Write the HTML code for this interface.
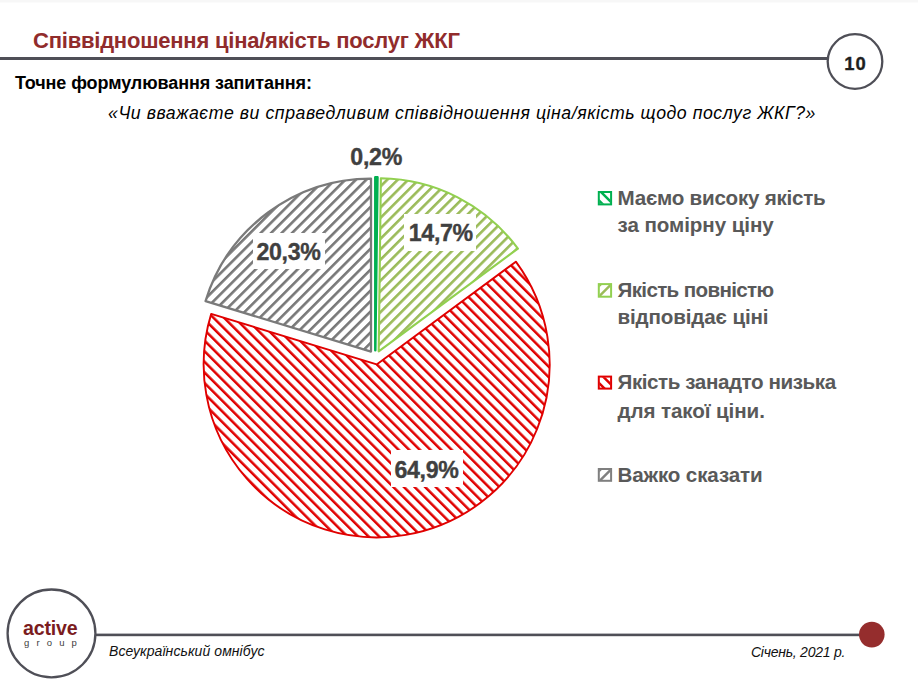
<!DOCTYPE html>
<html><head><meta charset="utf-8">
<style>
*{margin:0;padding:0;box-sizing:border-box}
html,body{width:918px;height:685px;overflow:hidden;background:#fff}
body{position:relative;font-family:"Liberation Sans",sans-serif}
.t{position:absolute;white-space:nowrap;line-height:1}
#title{left:33px;top:30.4px;font-size:22px;letter-spacing:-0.22px;font-weight:bold;color:#912c2c}
#sub{left:15px;top:74.3px;font-size:18px;letter-spacing:-0.09px;font-weight:bold;color:#000}
#quote{left:108px;top:105.4px;font-size:17.7px;letter-spacing:0.55px;font-style:italic;color:#000}
#pnum{left:844.2px;top:54.5px;font-size:18.4px;letter-spacing:1px;font-weight:bold;color:#1f1f1f;-webkit-text-stroke:0.35px #1f1f1f}
.lbl{position:absolute;background:#fff}
.lbl span{position:absolute;font-size:23.2px;letter-spacing:-0.35px;font-weight:bold;color:#404040;-webkit-text-stroke:0.35px #404040;white-space:nowrap;line-height:1}
.leg{position:absolute;left:617.5px;font-size:20.6px;font-weight:bold;color:#595959;line-height:28.3px;white-space:nowrap}
#active{left:23px;top:618.9px;font-size:19.6px;letter-spacing:-0.2px;font-weight:bold;color:#7b1c1e}
#group{left:24px;top:637.7px;font-size:9.5px;color:#404040;letter-spacing:7.15px}
#omni{left:109px;top:644.3px;letter-spacing:0.08px;font-size:14px;font-style:italic;color:#111}
#date{left:751px;top:645.2px;letter-spacing:-0.25px;font-size:14px;font-style:italic;color:#111}
</style></head><body>
<svg width="918" height="685" style="position:absolute;left:0;top:0">
<defs>
<pattern id="pg" patternUnits="userSpaceOnUse" width="7.4" height="7.4" patternTransform="rotate(45)"><rect x="0" y="0" width="2.6" height="7.4" fill="#787878"/></pattern>
<pattern id="plg" patternUnits="userSpaceOnUse" width="7.4" height="7.4" patternTransform="rotate(45)"><rect x="0" y="0" width="2.6" height="7.4" fill="#9BBB59"/></pattern>
<pattern id="pr" patternUnits="userSpaceOnUse" width="7.5" height="7.5" patternTransform="rotate(-45)"><rect x="0" y="0" width="2.5" height="7.5" fill="#E00000"/></pattern>
</defs>
<rect x="0" y="0" width="918" height="2" fill="#f7f7f7"/><rect x="0" y="2" width="918" height="1" fill="#fbfbfb"/>
<!-- header line and page circle -->
<rect x="0" y="57" width="828" height="3" fill="#4f4f57"/>
<circle cx="855" cy="61.5" r="27.3" fill="#fff" stroke="#4f4f57" stroke-width="2.3"/>
<!-- pie -->
<path d="M371,351.6 L205.55,301.05 A173,173 0 0 1 371,178.6 Z" fill="url(#pg)" stroke="#7a7a7a" stroke-width="2.3" stroke-linejoin="round"/>
<path d="M376.65,364.4 L515.85,261.68 A173,173 0 1 1 211.2,313.85 Z" fill="url(#pr)" stroke="#E00000" stroke-width="1.9" stroke-linejoin="round"/>
<path d="M378.7,351.3 L380.87,178.31 A173,173 0 0 1 517.9,248.58 Z" fill="url(#plg)" stroke="#92D050" stroke-width="2.1" stroke-linejoin="round"/>
<path d="M375.3,350.3 L375.3,177.3 A173,173 0 0 1 377.47,177.31 Z" fill="#00B050" stroke="#00B050" stroke-width="2.5" stroke-linejoin="round"/>
<!-- legend markers -->
<clipPath id="c191"><rect x="599.4" y="192.6" width="11.1" height="11.2"/></clipPath>
<g clip-path="url(#c191)" stroke="#00B050" stroke-width="2.5"><line x1="590.0" y1="181.0" x2="624.4" y2="215.4"/><line x1="579.5" y1="181.0" x2="613.9" y2="215.4"/></g>
<rect x="598.8" y="192.0" width="12.3" height="12.4" fill="none" stroke="#00B050" stroke-width="2"/>
<clipPath id="c283"><rect x="599.4" y="284.7" width="11.1" height="11.4"/></clipPath>
<g clip-path="url(#c283)" stroke="#9BBB59" stroke-width="2.5"><line x1="587.8" y1="307.7" x2="622.4" y2="273.1"/><line x1="577.3" y1="307.7" x2="611.9" y2="273.1"/></g>
<rect x="598.8" y="284.1" width="12.3" height="12.6" fill="none" stroke="#92D050" stroke-width="2"/>
<clipPath id="c375"><rect x="599.4" y="377.2" width="11.1" height="10.8"/></clipPath>
<g clip-path="url(#c375)" stroke="#E00000" stroke-width="2.5"><line x1="592.1" y1="365.6" x2="626.1" y2="399.6"/><line x1="581.6" y1="365.6" x2="615.6" y2="399.6"/></g>
<rect x="598.8" y="376.6" width="12.3" height="12.0" fill="none" stroke="#E00000" stroke-width="2"/>
<clipPath id="c468"><rect x="599.4" y="469.6" width="11.1" height="10.6"/></clipPath>
<g clip-path="url(#c468)" stroke="#808080" stroke-width="2.5"><line x1="588.7" y1="491.8" x2="622.5" y2="458.0"/><line x1="578.2" y1="491.8" x2="612.0" y2="458.0"/></g>
<rect x="598.8" y="469.0" width="12.3" height="11.8" fill="none" stroke="#7F7F7F" stroke-width="2"/>
<!-- footer -->
<rect x="96" y="633.6" width="770" height="2.6" fill="#4f4f57"/>
<circle cx="51.5" cy="633.4" r="43.9" fill="#fff" stroke="#4f4f57" stroke-width="2.3"/>
<circle cx="871.8" cy="634.6" r="12.8" fill="#952d2d"/>
</svg>
<div id="title" class="t">Співвідношення ціна/якість послуг ЖКГ</div>
<div id="sub" class="t">Точне формулювання запитання:</div>
<div id="quote" class="t">«Чи вважаєте ви справедливим співвідношення ціна/якість щодо послуг ЖКГ?»</div>
<div id="pnum" class="t">10</div>
<div id="l0" class="t" style="left:350.3px;top:145.53px;font-size:23.2px;letter-spacing:-0.3px;-webkit-text-stroke:0.35px #404040;font-weight:bold;color:#404040">0,2%</div>
<div class="lbl" style="left:404px;top:214px;width:72px;height:37px"><span id="l1" style="left:4.8px;top:8.23px">14,7%</span></div>
<div class="lbl" style="left:253px;top:233px;width:72px;height:36px"><span id="l2" style="left:3.5px;top:8.13px">20,3%</span></div>
<div class="lbl" style="left:391px;top:450px;width:72px;height:37px"><span id="l3" style="left:3.5px;top:8.73px">64,9%</span></div>
<div class="leg" style="top:184.24px;letter-spacing:-0.24px">Маємо високу якість</div>
<div class="leg" style="top:211.34px;letter-spacing:-0.08px">за помірну ціну</div>
<div class="leg" style="top:276.24px;letter-spacing:-0.65px">Якість повністю</div>
<div class="leg" style="top:303.34px;letter-spacing:-0.14px">відповідає ціні</div>
<div class="leg" style="top:368.24px;letter-spacing:-0.42px">Якість занадто низька</div>
<div class="leg" style="top:396.54px;letter-spacing:-0.1px">для такої ціни.</div>
<div class="leg" style="top:461.04px;letter-spacing:-0.15px">Важко сказати</div>
<div id="active" class="t">active</div>
<div id="group" class="t">group</div>
<div id="omni" class="t">Всеукраїнський омнібус</div>
<div id="date" class="t">Січень, 2021 р.</div>
</body></html>
